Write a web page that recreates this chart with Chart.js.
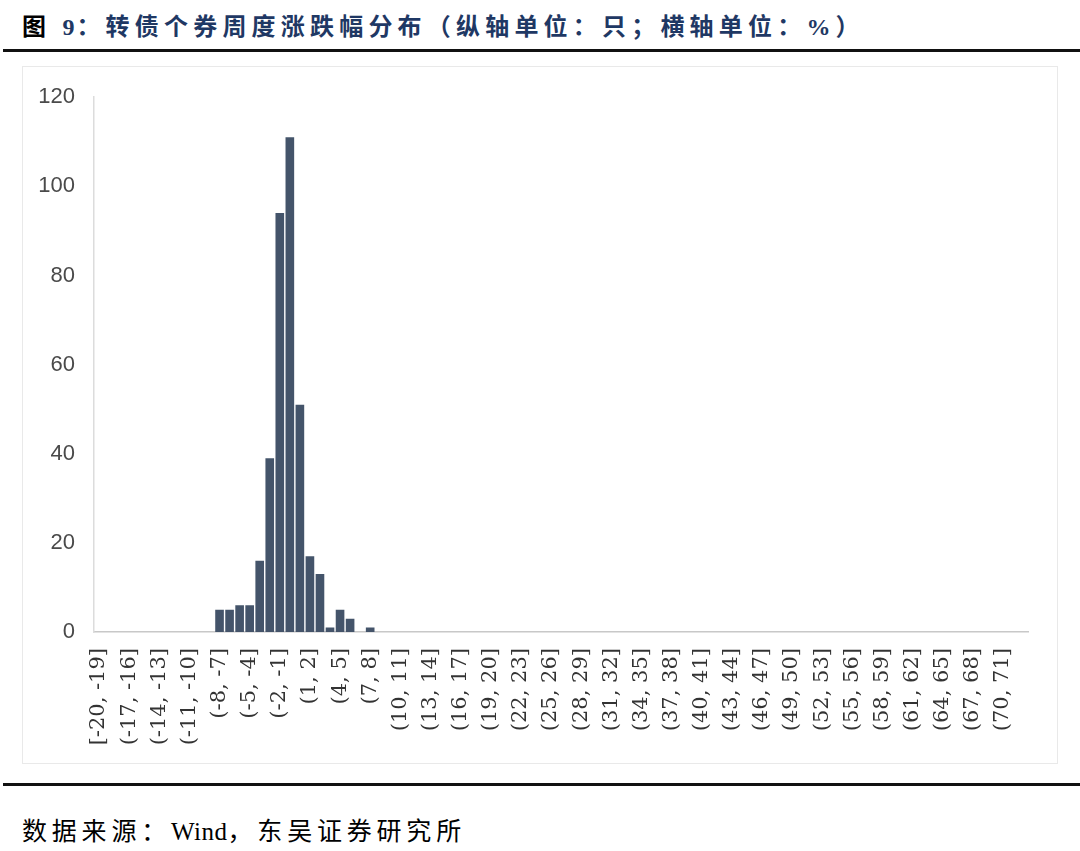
<!DOCTYPE html>
<html><head><meta charset="utf-8">
<script src="https://cdn.jsdelivr.net/npm/chart.js@4.4.1/dist/chart.umd.min.js"></script>
<style>
html,body{margin:0;padding:0;background:#fff;}
body{width:1080px;height:851px;position:relative;overflow:hidden;}
#title{position:absolute;left:22px;top:10px;font-family:"Liberation Serif","Noto Sans CJK SC",serif;font-weight:bold;font-size:24px;line-height:34px;letter-spacing:5.2px;color:#1f3864;white-space:nowrap;}
#title .k{color:#000;}
#title .n{letter-spacing:2px;}
.rule{position:absolute;left:3px;width:1077px;height:3px;background:#111;}
#frame{position:absolute;left:22px;top:66px;width:1036px;height:698px;border:1px solid #e9e9e9;box-sizing:border-box;}
#wrap{position:absolute;left:22px;top:65px;width:1036px;height:700px;}
#src{position:absolute;left:22px;top:815px;font-family:"Liberation Serif","Noto Sans CJK SC",serif;font-size:25px;line-height:34px;letter-spacing:4.8px;color:#000;white-space:nowrap;}
#src .w{letter-spacing:0.5px;}
</style></head>
<body>
<div id="title"><span class="k">图 </span><span class="n">9</span>：转债个券周度涨跌幅分布（纵轴单位：只；横轴单位：%）</div>
<div class="rule" style="top:49px"></div>
<div id="frame"></div>
<div id="wrap"><canvas id="c"></canvas></div>
<div class="rule" style="top:783px"></div>
<div id="src">数据来源：<span class="w">Wind</span>，东吴证券研究所</div>
<script>
const categories = [
"[-20, -19]","(-19, -18]","(-18, -17]","(-17, -16]","(-16, -15]","(-15, -14]","(-14, -13]","(-13, -12]","(-12, -11]","(-11, -10]",
"(-10, -9]","(-9, -8]","(-8, -7]","(-7, -6]","(-6, -5]","(-5, -4]","(-4, -3]","(-3, -2]","(-2, -1]","(-1, 0]",
"(0, 1]","(1, 2]","(2, 3]","(3, 4]","(4, 5]","(5, 6]","(6, 7]","(7, 8]","(8, 9]","(9, 10]",
"(10, 11]","(11, 12]","(12, 13]","(13, 14]","(14, 15]","(15, 16]","(16, 17]","(17, 18]","(18, 19]","(19, 20]",
"(20, 21]","(21, 22]","(22, 23]","(23, 24]","(24, 25]","(25, 26]","(26, 27]","(27, 28]","(28, 29]","(29, 30]",
"(30, 31]","(31, 32]","(32, 33]","(33, 34]","(34, 35]","(35, 36]","(36, 37]","(37, 38]","(38, 39]","(39, 40]",
"(40, 41]","(41, 42]","(42, 43]","(43, 44]","(44, 45]","(45, 46]","(46, 47]","(47, 48]","(48, 49]","(49, 50]",
"(50, 51]","(51, 52]","(52, 53]","(53, 54]","(54, 55]","(55, 56]","(56, 57]","(57, 58]","(58, 59]","(59, 60]",
"(60, 61]","(61, 62]","(62, 63]","(63, 64]","(64, 65]","(65, 66]","(66, 67]","(67, 68]","(68, 69]","(69, 70]",
"(70, 71]","(71, 72]","(72, 73]"
];
const counts = [
0,0,0,0,0,0,0,0,0,0,
0,0,5,5,6,6,16,39,94,111,
51,17,13,1,5,3,0,1,0,0,
0,0,0,0,0,0,0,0,0,0,
0,0,0,0,0,0,0,0,0,0,
0,0,0,0,0,0,0,0,0,0,
0,0,0,0,0,0,0,0,0,0,
0,0,0,0,0,0,0,0,0,0,
0,0,0,0,0,0,0,0,0,0,
0,0,0
];
const yTicks = [0,20,40,60,80,100,120];
const labelEvery = 3;

new Chart(document.getElementById('c'), {
  type: 'bar',
  data: { labels: categories, datasets: [{ data: counts, backgroundColor: '#44546a', borderWidth: 0, barPercentage: 0.86, categoryPercentage: 1.0 }] },
  options: {
    responsive: true, maintainAspectRatio: false, animation: false,
    layout: { padding: { top: 30, right: 30, left: 0, bottom: 0 } },
    plugins: { legend: { display: false }, tooltip: { enabled: false } },
    scales: {
      x: {
        grid: { display: false, drawTicks: false },
        border: { display: true, color: '#c8c8c8', width: 1.5 },
        ticks: {
          autoSkip: false, minRotation: 90, maxRotation: 90, padding: 16,
          color: '#333', font: { family: 'DejaVu Serif', size: 21 },
          callback: function(v, i) { return i % labelEvery === 0 ? categories[i] : ''; }
        },
        afterFit: function(s) { s.height = 133; s.paddingRight = 0; s.paddingLeft = 0; }
      },
      y: {
        min: yTicks[0], max: yTicks[yTicks.length - 1],
        grid: { display: false, drawTicks: false },
        border: { display: true, color: '#dcdcdc', width: 1.5 },
        afterBuildTicks: function(s) { s.ticks = yTicks.map(v => ({ value: v })); },
        ticks: { padding: 19, color: '#4a4a4a', font: { family: 'Liberation Sans', size: 22 } },
        afterFit: function(s) { s.width = 72; }
      }
    }
  }
});
</script>
</body></html>
